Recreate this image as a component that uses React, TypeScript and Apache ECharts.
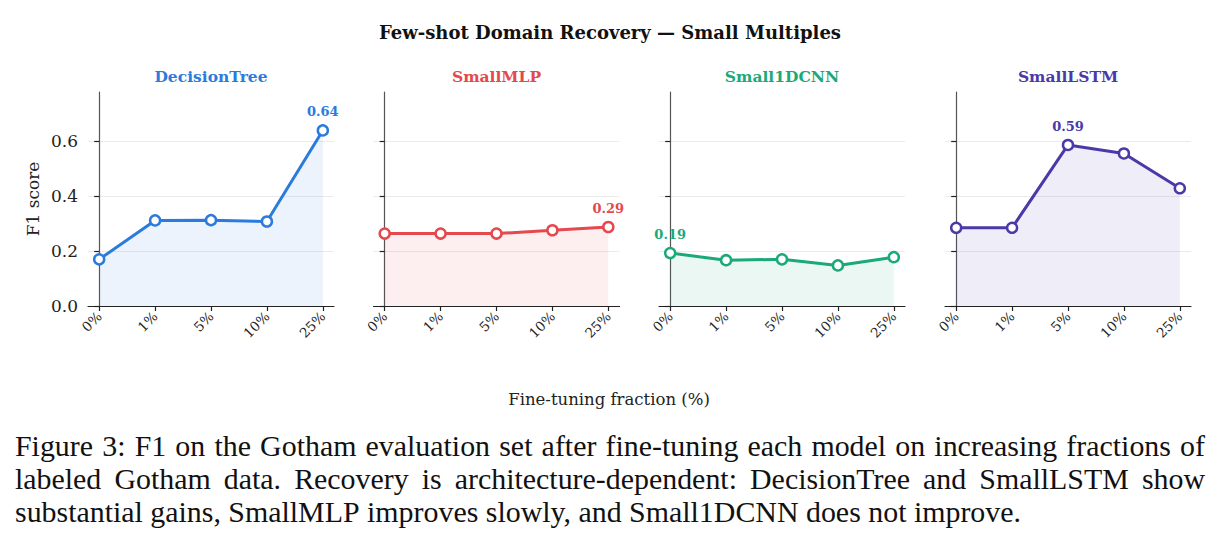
import React, { useEffect, useRef } from "react";
import * as echarts from "echarts";

// ---- data ----
const fractions = ["0%", "1%", "5%", "10%", "25%"];
const models = ["DecisionTree", "SmallMLP", "Small1DCNN", "SmallLSTM"];
const decisionTreeF1 = [0.17, 0.312, 0.313, 0.308, 0.64];
const smallMlpF1 = [0.264, 0.264, 0.264, 0.276, 0.288];
const small1dcnnF1 = [0.193, 0.167, 0.17, 0.148, 0.178];
const smallLstmF1 = [0.285, 0.285, 0.587, 0.556, 0.429];
const yTicks = [0, 0.2, 0.4, 0.6];
const gridLevels = [0.2, 0.4, 0.6];
const modelColors = ["#2b7bdc", "#e5484d", "#1ba97a", "#4a3aa8"];

const titleText = "Few-shot Domain Recovery — Small Multiples";
const xAxisTitle = "Fine-tuning fraction (%)";
const yAxisTitle = "F1 score";
const captionLines = [
  "Figure 3: F1 on the Gotham evaluation set after fine-tuning each model on increasing fractions of",
  "labeled Gotham data.  Recovery is architecture-dependent: DecisionTree and SmallLSTM show",
  "substantial gains, SmallMLP improves slowly, and Small1DCNN does not improve.",
];

// ---- layout ----
const W = 1220;
const H = 544;
const SERIF = "'DejaVu Serif', serif";
const CAPTION_FAMILY = "Liberation Serif";
const gridLefts = [88, 373.5, 659, 945];
const GRID_TOP = 92;
const GRID_W = 246;
const GRID_H = 214;
const Y_MAX = 0.78;
const CAPTION_LEFT = 15;
const CAPTION_RIGHT = 1205;
const CAPTION_LAST_RIGHT = 1020;
const CAPTION_Y = [445, 478, 511];

function hexAlpha(hex: string, a: number) {
  const n = parseInt(hex.slice(1), 16);
  return `rgba(${(n >> 16) & 255},${(n >> 8) & 255},${n & 255},${a})`;
}

// Caption set as justified paragraph: words are placed one by one so the
// first lines fill the full width, the last line stays ragged.
function captionGraphics() {
  const ctx = document.createElement("canvas").getContext("2d")!;
  ctx.font = `100px "${CAPTION_FAMILY}"`;
  const lastW = ctx.measureText(captionLines[captionLines.length - 1]).width;
  const size = Math.round(((100 * (CAPTION_LAST_RIGHT - CAPTION_LEFT)) / lastW) * 10) / 10;
  ctx.font = `${size}px "${CAPTION_FAMILY}"`;
  const out: any[] = [];
  captionLines.forEach((line, li) => {
    const words = line.split(/\s+/);
    const widths = words.map((w) => ctx.measureText(w).width);
    const total = widths.reduce((a, b) => a + b, 0);
    const justify = li < captionLines.length - 1;
    const space = ctx.measureText(" ").width;
    const gap = justify ? (CAPTION_RIGHT - CAPTION_LEFT - total) / (words.length - 1) : space;
    let x = CAPTION_LEFT;
    words.forEach((w, wi) => {
      out.push({
        type: "text",
        x,
        y: CAPTION_Y[li],
        silent: true,
        style: {
          text: w,
          fontSize: size,
          fontFamily: CAPTION_FAMILY,
          fill: "#111",
          align: "left",
          verticalAlign: "middle",
        },
      });
      x += widths[wi] + gap;
    });
  });
  return out;
}

export default function App() {
  const ref = useRef<HTMLDivElement>(null);

  useEffect(() => {
    if (!ref.current) return;
    const chart = echarts.init(ref.current, null, { renderer: "svg" });
    const allSeries = [decisionTreeF1, smallMlpF1, small1dcnnF1, smallLstmF1];

    const grids = gridLefts.map((left) => ({
      left,
      top: GRID_TOP,
      width: GRID_W,
      height: GRID_H,
      containLabel: false,
    }));

    const xAxes = gridLefts.map((_, i) => ({
      type: "value",
      gridIndex: i,
      min: -0.2,
      max: 4.2,
      axisLine: { show: true, onZero: false, lineStyle: { color: "#222", width: 1.2 } },
      axisTick: {
        show: true,
        customValues: [0, 1, 2, 3, 4],
        length: 5,
        lineStyle: { color: "#222", width: 1.2 },
      },
      axisLabel: {
        show: true,
        customValues: [0, 1, 2, 3, 4],
        formatter: (v: number) => fractions[Math.round(v)] ?? "",
        rotate: 45,
        margin: 8,
        fontSize: 13.5,
        fontFamily: SERIF,
        color: "#222",
      },
      splitLine: { show: false },
    }));

    const yAxes = gridLefts.map((_, i) => ({
      type: "value",
      gridIndex: i,
      min: 0,
      max: Y_MAX,
      name: i === 0 ? yAxisTitle : "",
      nameLocation: "middle",
      nameRotate: 90,
      nameGap: 47,
      nameTextStyle: { fontSize: 17, fontFamily: SERIF, color: "#222" },
      axisLine: { show: true, lineStyle: { color: "#555", width: 1.2 } },
      axisTick: {
        show: true,
        customValues: yTicks,
        length: 5,
        lineStyle: { color: "#222", width: 1.2 },
      },
      axisLabel: {
        show: i === 0,
        customValues: yTicks,
        formatter: (v: number) => v.toFixed(1),
        margin: 10,
        fontSize: 17,
        fontFamily: SERIF,
        color: "#222",
      },
      splitLine: { show: false },
    }));

    const series = allSeries.map((vals, i) => {
      const maxIdx = vals.indexOf(Math.max(...vals));
      const color = modelColors[i];
      return {
        type: "line",
        name: models[i],
        xAxisIndex: i,
        yAxisIndex: i,
        data: vals.map((v, j) => ({
          value: [j, v],
          label:
            j === maxIdx
              ? {
                  show: true,
                  position: "top",
                  distance: 6,
                  formatter: () => v.toFixed(2),
                  fontSize: 13,
                  fontWeight: "bold",
                  fontFamily: SERIF,
                  color,
                }
              : { show: false },
        })),
        symbol: "circle",
        symbolSize: 10,
        showSymbol: true,
        lineStyle: { color, width: 3 },
        itemStyle: { color: "#fff", borderColor: color, borderWidth: 2.5 },
        areaStyle: { color: hexAlpha(color, 0.13), origin: "start" },
        markLine: {
          silent: true,
          symbol: "none",
          label: { show: false },
          lineStyle: { color: "#ebebeb", width: 1, type: "solid" },
          data: gridLevels.map((g) => ({ yAxis: g })),
          z: 0,
        },
        z: 3,
      };
    });

    const panelTitles = models.map((m, i) => ({
      type: "text",
      x: gridLefts[i] + GRID_W / 2,
      y: 76,
      silent: true,
      style: {
        text: m,
        fontSize: 15.5,
        fontWeight: "bold",
        fontFamily: SERIF,
        fill: modelColors[i],
        align: "center",
        verticalAlign: "middle",
      },
    }));

    chart.setOption({
      animation: false,
      backgroundColor: "#fff",
      grid: grids,
      xAxis: xAxes,
      yAxis: yAxes,
      series,
      graphic: [
        {
          type: "text",
          x: W / 2,
          y: 32,
          silent: true,
          style: {
            text: titleText,
            fontSize: 18,
            fontWeight: "bold",
            fontFamily: SERIF,
            fill: "#111",
            align: "center",
            verticalAlign: "middle",
          },
        },
        ...panelTitles,
        {
          type: "text",
          x: 609,
          y: 399,
          silent: true,
          style: {
            text: xAxisTitle,
            fontSize: 16.5,
            fontFamily: SERIF,
            fill: "#222",
            align: "center",
            verticalAlign: "middle",
          },
        },
        ...captionGraphics(),
      ],
    });

    return () => chart.dispose();
  }, []);

  return (
    <div
      style={{ position: "absolute", left: 0, top: 0, width: W, height: H, background: "#fff" }}
    >
      <div ref={ref} style={{ width: W, height: H }} />
    </div>
  );
}
